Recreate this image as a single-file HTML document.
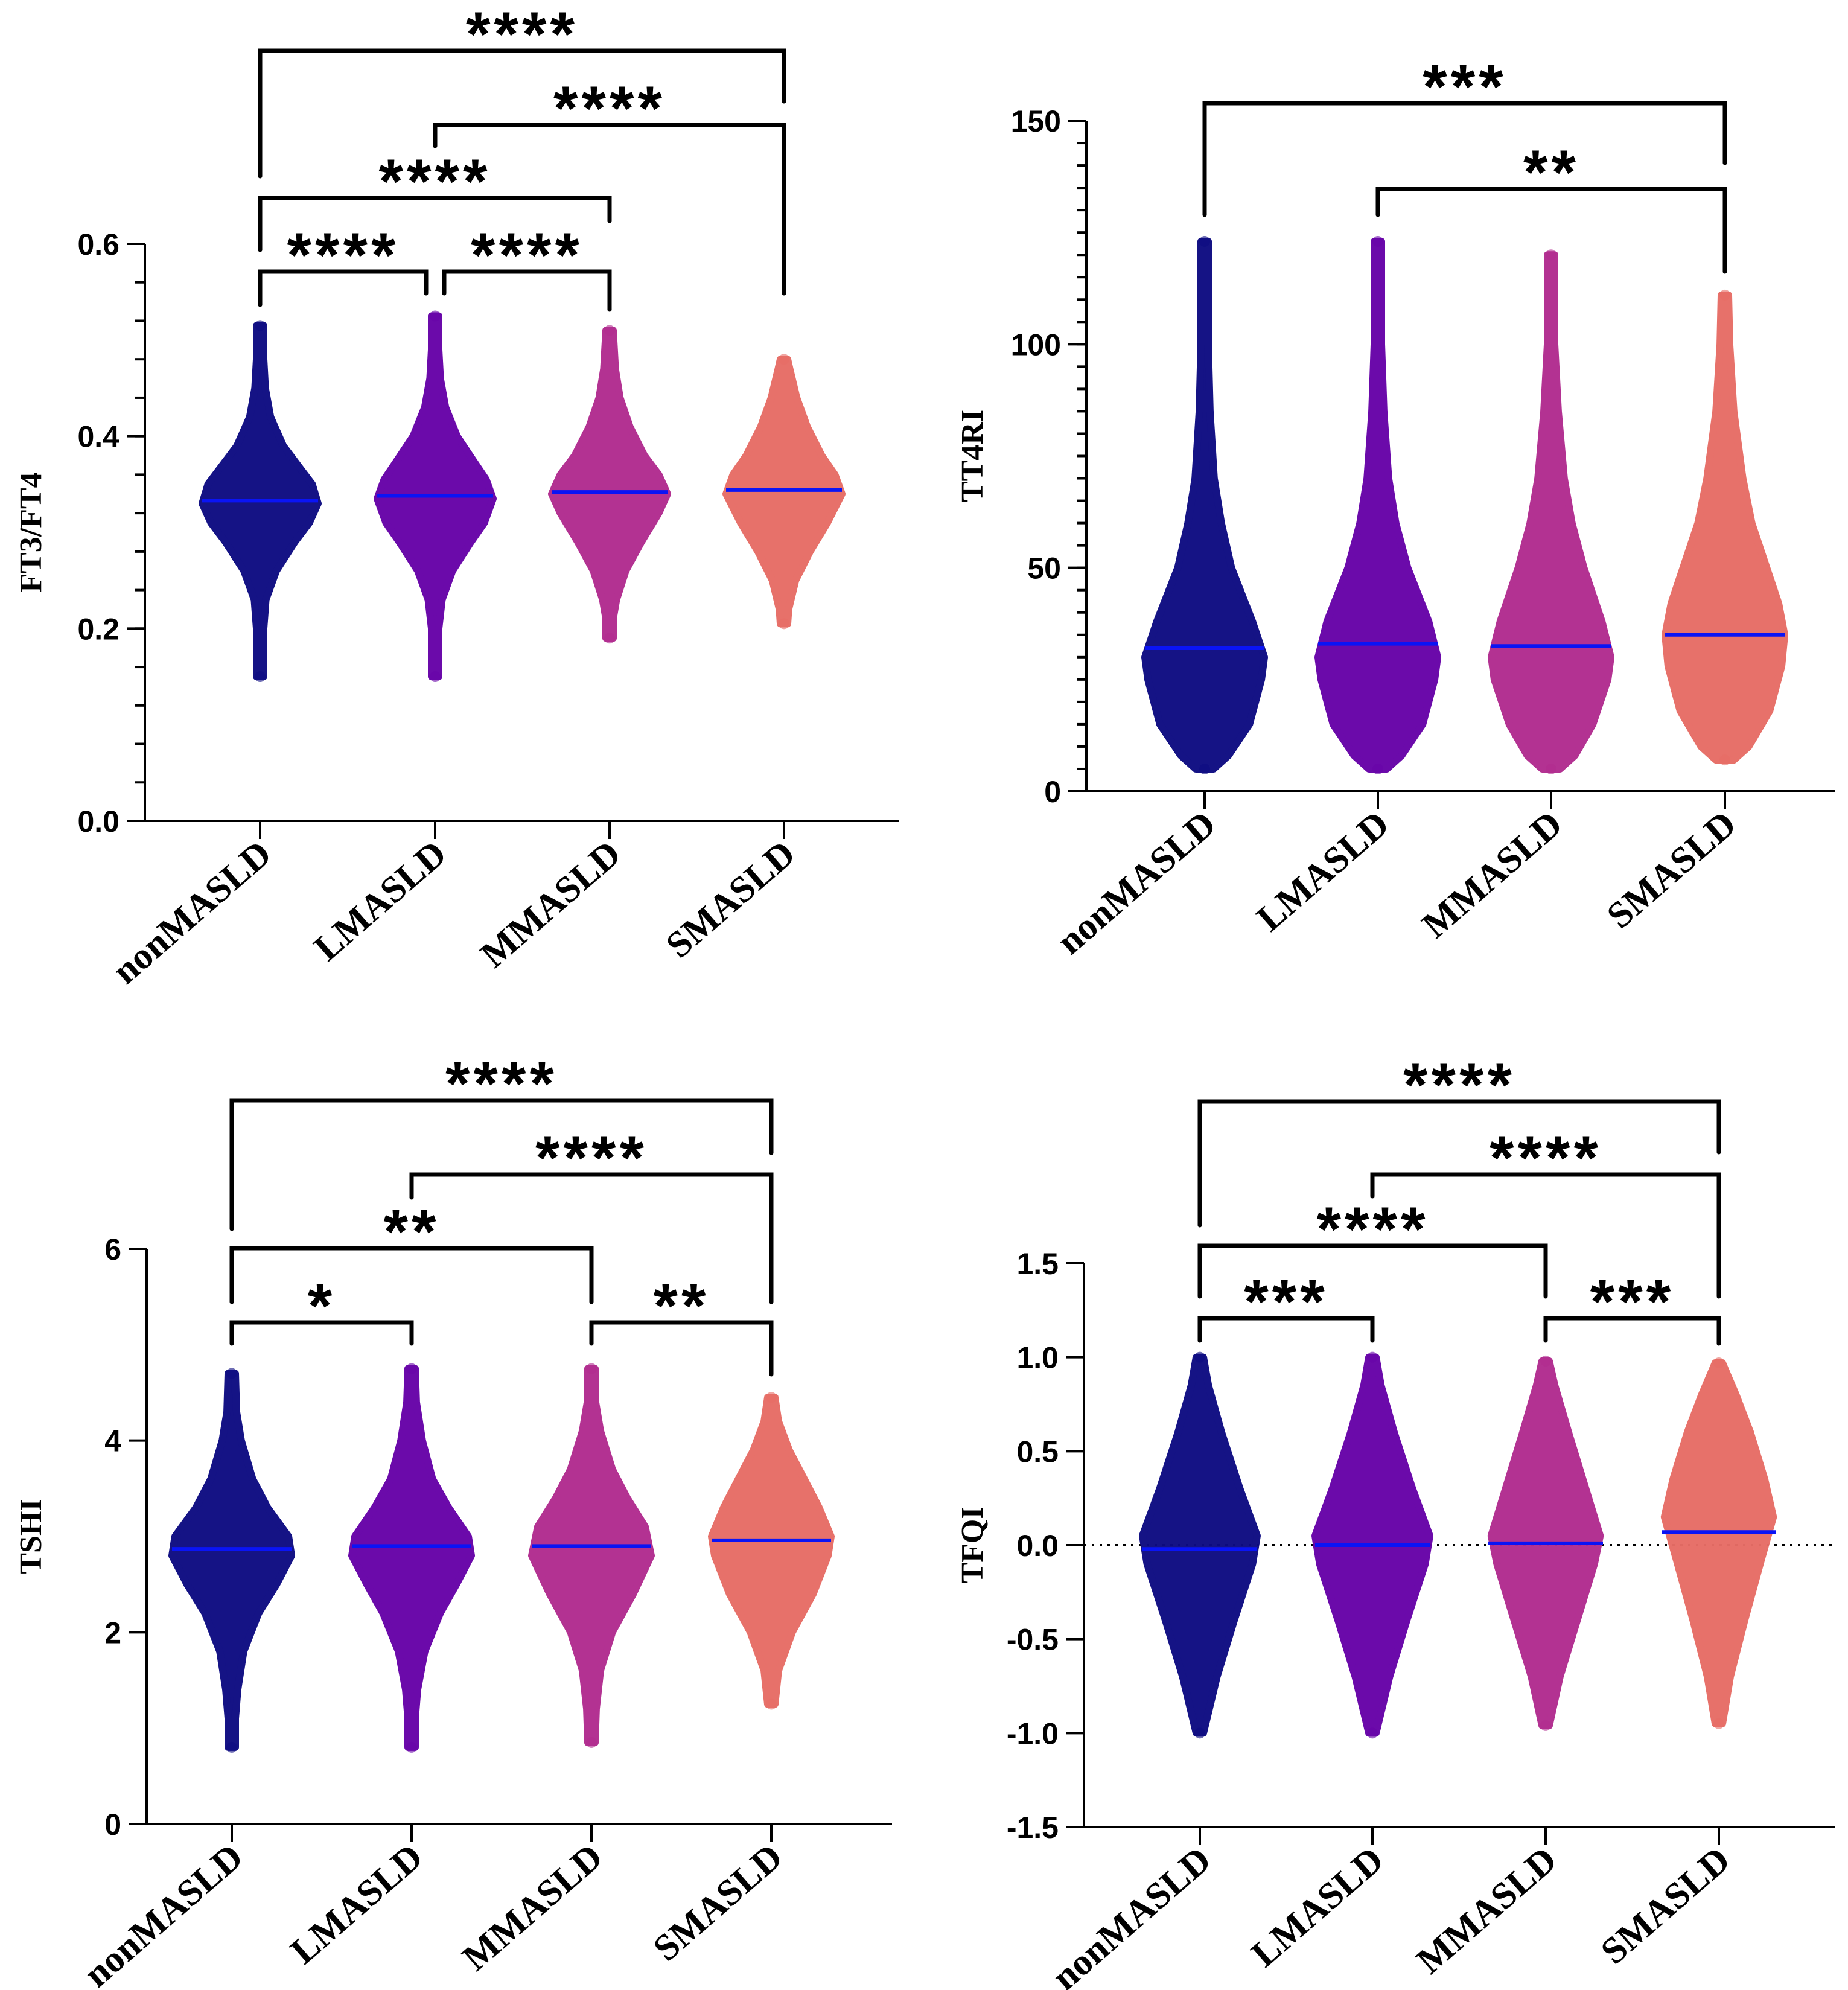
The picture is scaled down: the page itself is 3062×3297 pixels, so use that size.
<!DOCTYPE html>
<html><head><meta charset="utf-8">
<style>
html,body{margin:0;padding:0;background:#fff;}
svg{display:block;}
.tick{font-family:"Liberation Sans",sans-serif;font-weight:bold;font-size:50px;fill:#000;}
.ttl{font-family:"Liberation Serif",serif;font-weight:bold;font-size:52px;fill:#000;}
.xl{font-family:"Liberation Serif",serif;font-weight:bold;font-size:62px;fill:#000;}
.star{font-family:"Liberation Sans",sans-serif;font-weight:bold;font-size:104px;fill:#000;}
</style></head>
<body>
<svg id="fig" width="3062" height="3297" viewBox="0 0 3062 3297" xmlns="http://www.w3.org/2000/svg"></svg>
<script>
// ---- data ----
const categories = ["nonMASLD","LMASLD","MMASLD","SMASLD"];
const groupColors = ["#0e0c82","#6703a8","#b12c8f","#e76d66"];

// Panel A: FT3/FT4
const ftMedians = [0.333, 0.338, 0.342, 0.344];
const ftProfiles = [
 [[0.15,0.04],[0.17,0.05],[0.2,0.05],[0.23,0.1],[0.26,0.28],[0.29,0.6],[0.31,0.85],[0.33,1],[0.35,0.9],[0.37,0.65],[0.39,0.4],[0.42,0.18],[0.45,0.09],[0.48,0.06],[0.515,0.04]],
 [[0.15,0.04],[0.17,0.05],[0.2,0.06],[0.23,0.12],[0.26,0.3],[0.29,0.62],[0.31,0.85],[0.335,1],[0.355,0.88],[0.38,0.6],[0.4,0.38],[0.43,0.18],[0.46,0.09],[0.49,0.06],[0.525,0.04]],
 [[0.19,0.04],[0.21,0.06],[0.23,0.12],[0.26,0.28],[0.29,0.55],[0.32,0.85],[0.34,1],[0.36,0.85],[0.38,0.6],[0.41,0.35],[0.44,0.18],[0.47,0.1],[0.51,0.04]],
 [[0.205,0.04],[0.22,0.08],[0.25,0.2],[0.28,0.45],[0.31,0.75],[0.34,1],[0.36,0.88],[0.38,0.65],[0.41,0.4],[0.44,0.22],[0.47,0.1],[0.48,0.05]]
];
const ftTicks = [0, 0.2, 0.4, 0.6];

// Panel B: TT4RI
const ttMedians = [32, 33, 32.5, 35];
const ttProfiles = [
 [[5,0.15],[8,0.4],[15,0.75],[25,0.95],[30,1],[38,0.8],[50,0.45],[60,0.28],[70,0.16],[85,0.09],[100,0.05],[108,0.04],[123,0.04]],
 [[5,0.15],[8,0.4],[15,0.75],[25,0.95],[30,1],[38,0.85],[50,0.5],[60,0.3],[70,0.18],[85,0.1],[100,0.06],[110,0.04],[123,0.04]],
 [[5,0.15],[8,0.4],[15,0.7],[25,0.95],[30,1],[38,0.85],[50,0.55],[60,0.35],[70,0.22],[85,0.12],[100,0.06],[113,0.04],[120,0.04]],
 [[7,0.15],[10,0.4],[18,0.75],[28,0.95],[35,1],[42,0.9],[50,0.7],[60,0.45],[70,0.3],[85,0.15],[100,0.08],[111,0.04]]
];
const ttTicks = [0, 50, 100, 150];

// Panel C: TSHI
const tsMedians = [2.87, 2.9, 2.9, 2.96];
const tsProfiles = [
 [[0.8,0.04],[1.1,0.06],[1.4,0.1],[1.8,0.2],[2.2,0.45],[2.5,0.75],[2.8,1],[3.0,0.95],[3.3,0.6],[3.6,0.35],[4.0,0.16],[4.3,0.08],[4.7,0.04]],
 [[0.8,0.04],[1.1,0.06],[1.4,0.1],[1.8,0.22],[2.2,0.48],[2.5,0.75],[2.8,1],[3.0,0.95],[3.3,0.62],[3.6,0.35],[4.0,0.18],[4.4,0.08],[4.75,0.04]],
 [[0.85,0.04],[1.2,0.08],[1.6,0.15],[2.0,0.35],[2.4,0.7],[2.8,1],[3.1,0.9],[3.4,0.6],[3.7,0.35],[4.1,0.15],[4.4,0.07],[4.75,0.04]],
 [[1.25,0.04],[1.6,0.12],[2.0,0.35],[2.4,0.7],[2.8,0.95],[3.0,1],[3.3,0.8],[3.6,0.55],[3.9,0.3],[4.2,0.12],[4.45,0.04]]
];
const tsTicks = [0, 2, 4, 6];

// Panel D: TFQI
const tfMedians = [-0.02, 0.0, 0.01, 0.07];
const tfProfiles = [
 [[-1,0.04],[-0.7,0.3],[-0.4,0.6],[-0.1,0.92],[0.05,1],[0.3,0.7],[0.6,0.38],[0.85,0.15],[1.0,0.04]],
 [[-1,0.04],[-0.7,0.3],[-0.4,0.6],[-0.1,0.92],[0.05,1],[0.3,0.7],[0.6,0.38],[0.85,0.15],[1.0,0.04]],
 [[-0.96,0.04],[-0.7,0.25],[-0.4,0.55],[-0.1,0.85],[0.05,0.95],[0.3,0.7],[0.6,0.4],[0.85,0.16],[0.98,0.04]],
 [[-0.95,0.04],[-0.7,0.2],[-0.4,0.45],[-0.1,0.72],[0.15,0.95],[0.35,0.8],[0.6,0.55],[0.8,0.3],[0.97,0.04]]
];
const tfTicks = [-1.5, -1.0, -0.5, 0.0, 0.5, 1.0, 1.5];

// ---- layout ----
const panels = [
 {name:"ft3-ft4", title:"FT3/FT4", medians:ftMedians, profiles:ftProfiles, ticks:ftTicks, dec:1,
  ax:240, ax2:1490, y0:1360, y1:404, vmin:0, vmax:0.6, minor:0.04, cx:[431,721,1010,1299], hw:96, titleX:52,
  brackets:[[0,3,84,292,168,"****"],[1,3,207,242,486,"****"],[0,2,328,414,366,"****"],[0,1,450,505,486,"****",0,-15],[1,2,450,486,513,"****",15,0]]},
 {name:"tt4ri", title:"TT4RI", medians:ttMedians, profiles:ttProfiles, ticks:ttTicks, dec:0,
  ax:1800, ax2:3041, y0:1311, y1:200, vmin:0, vmax:150, minor:5, cx:[1996,2283,2570,2858], hw:99, titleX:1612,
  brackets:[[0,3,171,356,270,"***"],[1,3,313,356,450,"**"]]},
 {name:"tshi", title:"TSHI", medians:tsMedians, profiles:tsProfiles, ticks:tsTicks, dec:0,
  ax:243, ax2:1478, y0:3022, y1:2069, vmin:0, vmax:6, minor:0, cx:[384,682,980,1278], hw:99, titleX:52,
  brackets:[[0,3,1823,2036,1910,"****"],[1,3,1946,1984,2157,"****"],[0,2,2068,2157,2157,"**"],[0,1,2191,2226,2226,"*"],[2,3,2191,2226,2277,"**"]]},
 {name:"tfqi", title:"TFQI", medians:tfMedians, profiles:tfProfiles, ticks:tfTicks, dec:1,
  ax:1796, ax2:3041, y0:3027, y1:2093, vmin:-1.5, vmax:1.5, minor:0, cx:[1988,2274,2561,2848], hw:95, titleX:1612, zeroLine:true,
  brackets:[[0,3,1825,2030,1909,"****"],[1,3,1946,1982,2148,"****"],[0,2,2064,2148,2148,"****"],[0,1,2184,2221,2221,"***"],[2,3,2184,2221,2226,"***"]]}
];

const NS="http://www.w3.org/2000/svg";
const svg=document.getElementById('fig');
function mk(tag,attrs,parent){const e=document.createElementNS(NS,tag);for(const k in attrs)e.setAttribute(k,attrs[k]);(parent||svg).appendChild(e);return e;}

panels.forEach(p=>{
  const g=mk('g',{});
  
  
  const ys=v=>p.y0+(v-p.vmin)/(p.vmax-p.vmin)*(p.y1-p.y0);

  if(p.zeroLine){
    const zl=mk('line',{x1:p.ax,x2:p.ax2,y1:ys(0),y2:ys(0),stroke:'#000','stroke-width':4,'stroke-dasharray':'4 9'},g);
    
    
  }

  p.profiles.forEach((prof,i)=>{
    const cx=p.cx[i], col=groupColors[i];
    const sg=mk('g',{},g);
    
    
    let right=[], left=[];
    prof.forEach(([v,d])=>{const y=ys(v);const w=Math.max(d*p.hw,6);right.push([cx+w,y]);left.unshift([cx-w,y]);});
    const pts=right.concat(left).map(q=>q[0].toFixed(1)+','+q[1].toFixed(1)).join(' ');
    mk('polygon',{points:pts,fill:col,stroke:col,'stroke-width':12,'stroke-linejoin':'round','opacity':0.97},sg);
    const vLo=prof[0][0], vHi=prof[prof.length-1][0];
    [vLo,vHi].forEach(v=>{mk('circle',{cx:cx,cy:ys(v),r:9,fill:col,opacity:0.6},sg);});
    const m=mk('line',{x1:cx-p.hw,x2:cx+p.hw,y1:ys(p.medians[i]),y2:ys(p.medians[i]),stroke:'#0a14f5','stroke-width':6},g);
    
    
  });

  const ya=mk('line',{x1:p.ax,x2:p.ax,y1:p.y1,y2:p.y0,stroke:'#000','stroke-width':4},g);
  
  
  const xa=mk('line',{x1:p.ax,x2:p.ax2,y1:p.y0,y2:p.y0,stroke:'#000','stroke-width':4},g);
  
  
  if(p.minor){
    for(let v=p.vmin;v<=p.vmax+1e-9;v+=p.minor){mk('line',{x1:p.ax-16,x2:p.ax,y1:ys(v),y2:ys(v),stroke:'#000','stroke-width':4},g);}
  }
  p.ticks.forEach(t=>{
    mk('line',{x1:p.ax-30,x2:p.ax,y1:ys(t),y2:ys(t),stroke:'#000','stroke-width':4},g);
    const tx=mk('text',{x:p.ax-42,y:ys(t)+18,'text-anchor':'end',class:'tick'},g);
    tx.textContent=t.toFixed(p.dec);
    
    
  });
  const yt=mk('text',{x:p.titleX,y:(p.y0+p.y1)/2,'text-anchor':'middle',class:'ttl',transform:`rotate(-90 ${p.titleX} ${(p.y0+p.y1)/2})`,dy:16},g);
  yt.textContent=p.title;
  
  
  p.cx.forEach((cx,i)=>{
    mk('line',{x1:cx,x2:cx,y1:p.y0,y2:p.y0+30,stroke:'#000','stroke-width':4},g);
    const lx=cx+8, ly=p.y0+44;
    const xl=mk('text',{x:lx,y:ly,'text-anchor':'end',class:'xl',transform:`rotate(-41 ${lx} ${ly})`,dy:22},g);
    xl.textContent=categories[i];
    
    
  });
  p.brackets.forEach(b=>{
    const [a,c,yb,yl,yr,txt]=b; const oa=b[6]||0, oc=b[7]||0;
    const xa_=p.cx[a]+oa, xc=p.cx[c]+oc;
    const bg=mk('g',{},g);
    
    
    mk('polyline',{points:`${xa_},${yl} ${xa_},${yb} ${xc},${yb} ${xc},${yr}`,fill:'none',stroke:'#000','stroke-width':7,'stroke-linecap':'round','stroke-linejoin':'miter'},bg);
    const st=mk('text',{x:(xa_+xc)/2,y:yb+8,'text-anchor':'middle',class:'star','letter-spacing':'6'},bg);
    st.textContent=txt;
  });
});
</script>
</body></html>
